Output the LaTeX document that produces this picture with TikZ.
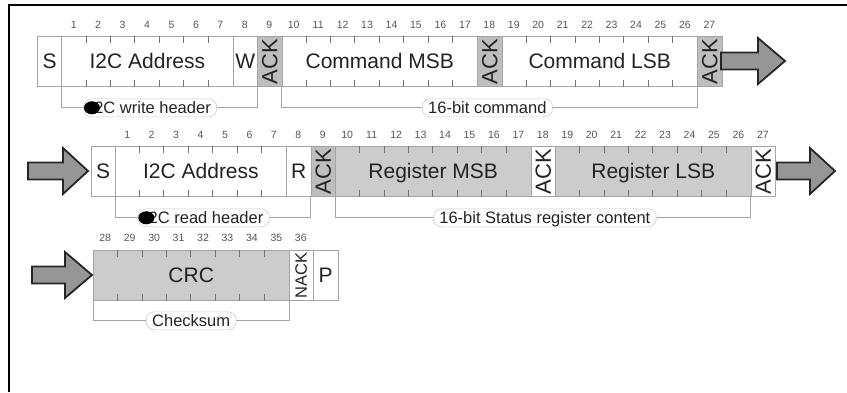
\documentclass[tikz,border=0pt]{standalone}
\usepackage{fontspec}
\setmainfont{Liberation Sans}
\usetikzlibrary{calc}
\definecolor{fgray}{RGB}{204,204,204}
\definecolor{agray}{RGB}{190,190,190}
\definecolor{lgray}{RGB}{165,165,165}
\definecolor{tkc}{RGB}{115,115,115}
\definecolor{txt}{RGB}{35,35,35}
\definecolor{numc}{RGB}{85,85,85}
\definecolor{arrfill}{RGB}{150,150,150}
\definecolor{capc}{RGB}{205,205,205}
\def\cw{24.45}
\newcommand\fld[7]{\node[fldbox, fill=#6, minimum width={#5*\cw}] (#1) at ({#2+#4*\cw},#3) {#7};}
\newcommand\tks[2]{\foreach \i in {1,...,#2}{\draw[tick] ($(#1.north west)+(\i*\cw,0)$) -- ++(0,7); \draw[tick] ($(#1.south west)+(\i*\cw,0)$) -- ++(0,-7);}}
\newcommand\rot[3]{\node[rottxt, font=#3] (#1t) at (#1) {#2};}
\newcommand\blockarrow[5]{\draw[barrow] (#1,#2-8.5) -- (#3,#2-8.5) -- (#3,#2-23) -- (#4,#2) -- (#3,#2+23) -- (#3,#2+8.5) -- (#1,#2+8.5) -- cycle;}
\begin{document}
\begin{tikzpicture}[x=1pt,y=-1pt,
  fldbox/.style={draw=lgray, line width=0.8pt, minimum height=50, inner sep=0, anchor=north west,
    text=txt, text height=15, text depth=0, font=\fontsize{21}{21}\selectfont},
  tick/.style={draw=tkc, line width=0.8pt},
  rottxt/.style={rotate=90, text=txt, inner sep=0, text depth=0},
  num/.style={text=numc, inner sep=0, font=\fontsize{10.5}{10.5}\selectfont},
  brk/.style={draw=lgray, line width=0.8pt},
  lbl/.style={draw=capc, fill=white, line width=0.6pt, rounded corners=8, inner xsep=6, inner ysep=3,
    text height=12, text depth=0, text=txt, font=\fontsize{16.5}{16.5}\selectfont},
  barrow/.style={draw=black!85, line width=1.8pt, fill=arrfill, line join=miter}
]
\useasboundingbox (0,0) rectangle (847,392);
\draw[line width=2pt] (9,392) -- (9,5) -- (847,5);

% ---- row 1
\fld{s1}{37}{36}{0}{1}{white}{S}
\fld{addr1}{37}{36}{1}{7}{white}{I2C Address}
\fld{w1}{37}{36}{8}{1}{white}{W}
\fld{ack1a}{37}{36}{9}{1}{agray}{}
\fld{cmsb}{37}{36}{10}{8}{white}{Command MSB}
\fld{ack1b}{37}{36}{18}{1}{agray}{}
\fld{clsb}{37}{36}{19}{8}{white}{Command LSB}
\fld{ack1c}{37}{36}{27}{1}{agray}{}
\tks{addr1}{6}\tks{cmsb}{7}\tks{clsb}{7}
\rot{ack1a}{ACK}{\fontsize{22}{22}\selectfont}
\rot{ack1b}{ACK}{\fontsize{22}{22}\selectfont}
\rot{ack1c}{ACK}{\fontsize{22}{22}\selectfont}
\foreach \n in {1,...,27}{\node[num] (b\n) at ({37+(\n+0.5)*\cw},25) {\n};}
\draw[brk] (addr1.south west) -- ++(0,21) -| (ack1a.south west);
\node[lbl] (lw) at ($(addr1.south west)!0.5!(ack1a.south west)+(-9,21)$) {I2C write header};
\fill[black] ([xshift=8.5]lw.west) ellipse [x radius=8, y radius=6.5];
\draw[brk] (cmsb.south west) -- ++(0,21) -| (ack1c.south west);
\node[lbl] (lc) at ($(cmsb.south west)!0.5!(ack1c.south west)+(-2,21)$) {16-bit command};
\blockarrow{721}{61}{758}{785}{}

% ---- row 2
\fld{s2}{90.5}{146}{0}{1}{white}{S}
\fld{addr2}{90.5}{146}{1}{7}{white}{I2C Address}
\fld{r2}{90.5}{146}{8}{1}{white}{R}
\fld{ack2a}{90.5}{146}{9}{1}{agray}{}
\fld{rmsb}{90.5}{146}{10}{8}{fgray}{Register MSB}
\fld{ack2b}{90.5}{146}{18}{1}{white}{}
\fld{rlsb}{90.5}{146}{19}{8}{fgray}{Register LSB}
\fld{ack2c}{90.5}{146}{27}{1}{white}{}
\tks{addr2}{6}\tks{rmsb}{7}\tks{rlsb}{7}
\rot{ack2a}{ACK}{\fontsize{22}{22}\selectfont}
\rot{ack2b}{ACK}{\fontsize{22}{22}\selectfont}
\rot{ack2c}{ACK}{\fontsize{22}{22}\selectfont}
\foreach \n in {1,...,27}{\node[num] (c\n) at ({90.5+(\n+0.5)*\cw},135) {\n};}
\draw[brk] (addr2.south west) -- ++(0,21) -| (ack2a.south west);
\node[lbl] (lr) at ($(addr2.south west)!0.5!(ack2a.south west)+(-9,21)$) {I2C read header};
\fill[black] ([xshift=8.5]lr.west) ellipse [x radius=8, y radius=6.5];
\draw[brk] (rmsb.south west) -- ++(0,21) -| (ack2c.south west);
\node[lbl] (ls) at ($(rmsb.south west)!0.5!(ack2c.south west)+(2,21)$) {16-bit Status register content};
\blockarrow{28}{171}{63}{88}{}
\blockarrow{777}{171}{810}{835}{}

% ---- row 3
\fld{crc}{93}{250}{0}{8}{fgray}{CRC}
\fld{nack}{93}{250}{8}{1}{white}{}
\fld{p3}{93}{250}{9}{1}{white}{P}
\tks{crc}{7}
\rot{nack}{NACK}{\fontsize{16.5}{16.5}\selectfont}
\foreach \n in {28,...,36}{\node[num] (d\n) at ({93+(\n-27.5)*\cw},238) {\n};}
\draw[brk] (crc.south west) -- ++(0,20) -| (crc.south east);
\node[lbl] (lk) at ($(crc.south west)!0.5!(crc.south east)+(0,20)$) {Checksum};
\blockarrow{32}{275}{65}{92}{}
\end{tikzpicture}
\end{document}
